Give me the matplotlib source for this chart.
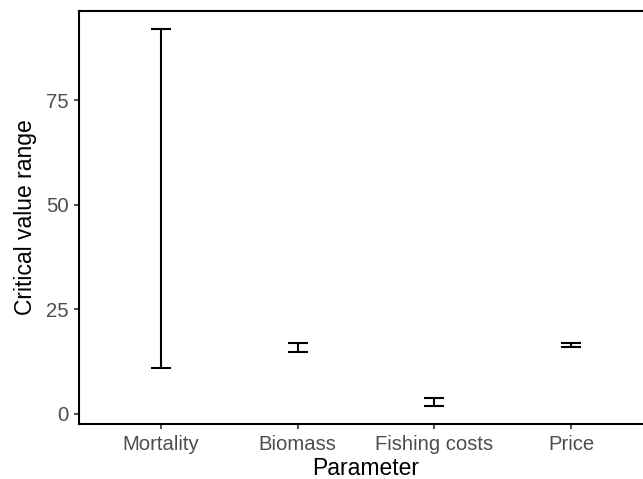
import matplotlib
matplotlib.use("Agg")
import matplotlib.pyplot as plt

plt.rcParams['font.family'] = ['Liberation Sans', 'DejaVu Sans']

parameters = ["Mortality", "Biomass", "Fishing costs", "Price"]
lower = [10.8, 14.8, 1.7, 15.9]
upper = [91.9, 16.85, 3.8, 16.85]

fig = plt.figure(figsize=(6.43, 4.79), dpi=100)
# panel extends a little past the right edge of the canvas
ax = fig.add_axes([79 / 643, 1 - 424 / 479, 574 / 643, 413 / 479])

x = list(range(1, len(parameters) + 1))
mid = [(lo + hi) / 2 for lo, hi in zip(lower, upper)]
err = [[m - lo for m, lo in zip(mid, lower)], [hi - m for m, hi in zip(mid, upper)]]
ax.errorbar(x, mid, yerr=err, fmt='none', ecolor='black', elinewidth=1.5,
            capsize=7.2, capthick=1.5)

ax.set_xlim(0.4, 4.6)
ax.set_ylim(-2.5, 96.3)
ax.set_xticks(x)
ax.set_xticklabels(parameters)
ax.set_yticks([0, 25, 50, 75])

for side in ['left', 'bottom', 'top']:
    ax.spines[side].set_linewidth(1.5)
    ax.spines[side].set_color('black')
ax.spines['right'].set_visible(False)

ax.tick_params(axis='both', direction='out', length=3.6, width=1.2, color='#333333',
               labelsize=14.6, labelcolor='#4D4D4D')
ax.tick_params(axis='x', pad=4)
ax.tick_params(axis='y', pad=4)
ax.set_xlabel("Parameter", fontsize=16.5, color='black', labelpad=2.5)
ax.set_ylabel("Critical value range", fontsize=16.5, color='black', labelpad=6.5)

fig.savefig("out.png", dpi=100)
